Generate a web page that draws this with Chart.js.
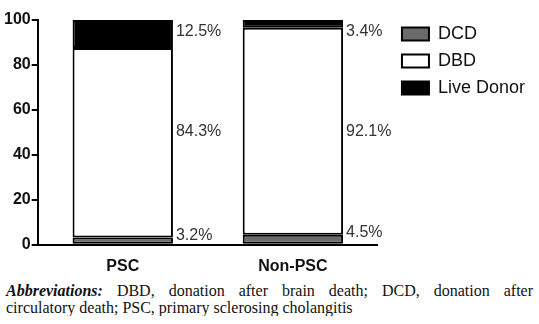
<!DOCTYPE html>
<html>
<head>
<meta charset="utf-8">
<script src="https://cdn.jsdelivr.net/npm/chart.js@4"></script>
<style>
  body { margin: 0; background: #fff; }
  #wrap { position: relative; width: 539px; height: 288px; }
  #note {
    font-family: "Liberation Serif", "DejaVu Serif", serif;
    font-size: 16px; line-height: 17px; color: #111;
    padding: 0 6px 0 6px; margin: -6px 0 0 0;
  }
  #note .l1 { text-align: justify; text-align-last: justify; }
</style>
</head>
<body>
<div id="wrap"><canvas id="myChart"></canvas></div>
<div id="note"><div class="l1"><b><i>Abbreviations:</i></b> DBD, donation after brain death; DCD, donation after</div><div>circulatory death; PSC, primary sclerosing cholangitis</div></div>
<script>
// categories and percentages
var groups = ['PSC', 'Non-PSC'];
var dcd = [3.2, 4.5];
var dbd = [84.3, 92.1];
var liveDonor = [12.5, 3.4];
var yTicks = [0, 20, 40, 60, 80, 100];

// percent labels to the right of each bar
var sideLabels = {
    id: 'sideLabels',
    afterLayout: function (chart) {
        // legend sits a little higher than the plot top
        if (chart.legend) chart.legend.top -= 4;
    },
    afterDatasetsDraw: function (chart) {
        var ctx = chart.ctx;
        var m0 = chart.getDatasetMeta(0), m2 = chart.getDatasetMeta(2);
        ctx.save();
        ctx.font = '16px "Liberation Sans", Arial, sans-serif';
        ctx.fillStyle = '#333';
        ctx.textAlign = 'left';
        for (var i = 0; i < groups.length; i++) {
            var b0 = m0.data[i], b2 = m2.data[i];
            var x = b0.x + b0.width / 2 + 3;
            ctx.textBaseline = 'middle';
            ctx.fillText(dcd[i].toFixed(1) + '%', x, b0.y - 2);
            ctx.fillText(dbd[i].toFixed(1) + '%', x, (b0.base + b2.y) / 2);
            ctx.textBaseline = 'top';
            ctx.fillText(liveDonor[i].toFixed(1) + '%', x, b2.y + 4);
        }
        ctx.restore();
    }
};

var data = {
    labels: groups,
    datasets: [
        { label: 'DCD', data: dcd, backgroundColor: '#6b6b6b' },
        { label: 'DBD', data: dbd, backgroundColor: '#ffffff' },
        { label: 'Live Donor', data: liveDonor, backgroundColor: '#000000' }
    ]
};
data.datasets.forEach(function (d) {
    d.borderColor = '#000';
    d.borderWidth = 2;
    d.borderSkipped = false;
    d.barPercentage = 0.59;
    d.categoryPercentage = 1;
});

var config = {
    type: 'bar',
    data: data,
    options: {
        responsive: true,
        maintainAspectRatio: false,
        animation: false,
        layout: { padding: { top: 20, left: 3, right: 4, bottom: 0 } },
        scales: {
            x: {
                stacked: true,
                grid: { display: false, drawTicks: false },
                border: { color: '#000', width: 2 },
                ticks: { padding: 12, color: '#111', font: { family: 'Liberation Sans', size: 16, weight: 'bold' } }
            },
            y: {
                stacked: true,
                min: 0, max: 100,
                afterBuildTicks: function (axis) { axis.ticks = yTicks.map(function (v) { return { value: v }; }); },
                grid: { drawOnChartArea: false, drawTicks: true, tickLength: 6, color: '#000', lineWidth: 2 },
                border: { color: '#000', width: 2 },
                ticks: { padding: 1, color: '#111', font: { family: 'Liberation Sans', size: 16, weight: 'bold' } }
            },
            // empty spacer between the plot and the legend
            gap: {
                type: 'linear',
                position: 'right',
                display: true,
                grid: { display: false },
                border: { display: false },
                ticks: { display: false },
                afterFit: function (s) { s.width = 15; }
            }
        },
        plugins: {
            tooltip: { enabled: false },
            legend: {
                position: 'right',
                align: 'start',
                maxWidth: 200,
                labels: {
                    boxWidth: 27, boxHeight: 13, padding: 9, color: '#111',
                    font: { family: 'Liberation Sans', size: 18 }
                }
            }
        }
    },
    plugins: [sideLabels]
};

var ctx = document.getElementById('myChart').getContext('2d');
var myChart = new Chart(ctx, config);
</script>
</body>
</html>
